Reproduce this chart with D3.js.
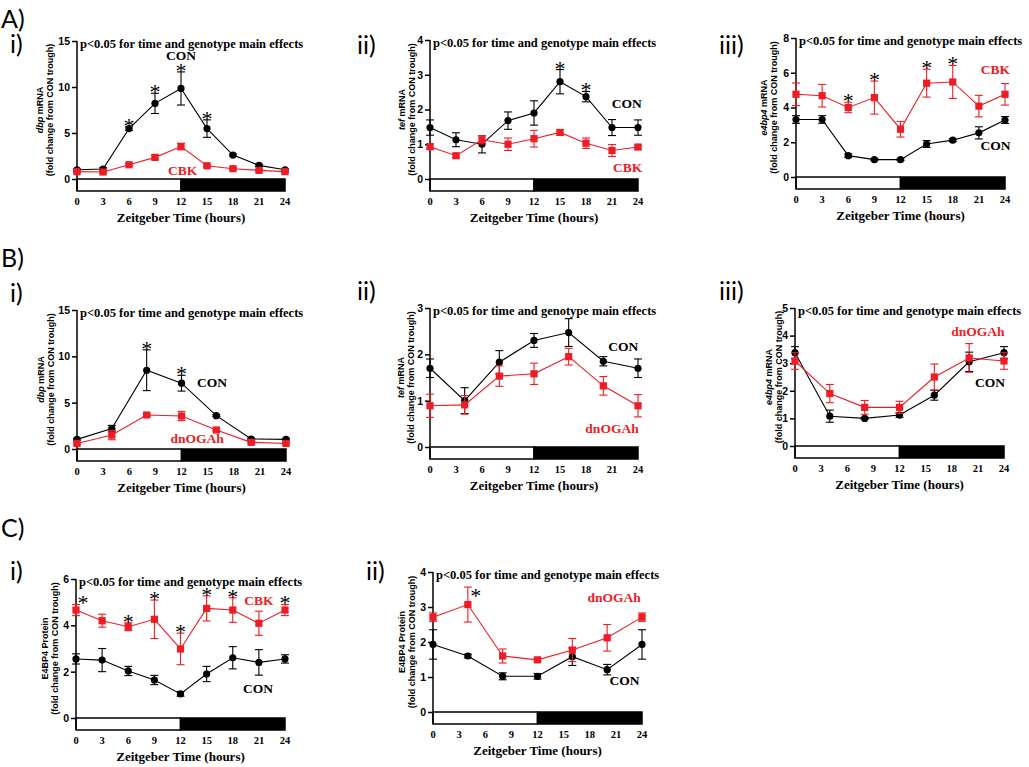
<!DOCTYPE html>
<html>
<head>
<meta charset="utf-8">
<script src="https://cdn.jsdelivr.net/npm/d3@7"></script>
<style>
  body { margin: 0; background: #fff; }
  svg { display: block; }
</style>
</head>
<body>
<div id="chart"></div>
<script>
// time points (Zeitgeber Time, hours)
const hours3 = [0, 3, 6, 9, 12, 15, 18, 21, 24];
const hours4 = [0, 4, 8, 12, 16, 20, 24];
const xTickLabels = [0, 3, 6, 9, 12, 15, 18, 21, 24];

// A i) dbp mRNA, CON vs CBK
const aDbpCon = [1.0, 1.08, 5.48, 8.22, 9.84, 5.48, 2.6, 1.48, 1.0];
const aDbpConErr = [0.15, 0.15, 0.2, 1.1, 1.8, 0.95, 0.12, 0.12, 0.1];
const aDbpCbk = [0.8, 0.76, 1.55, 2.35, 3.53, 1.44, 1.12, 0.94, 0.8];
const aDbpCbkErr = [0.1, 0.1, 0.12, 0.25, 0.35, 0.12, 0.1, 0.1, 0.1];

// A ii) tef mRNA
const aTefCon = [1.48, 1.13, 1.0, 1.68, 1.9, 2.8, 2.37, 1.48, 1.48];
const aTefConErr = [0.22, 0.2, 0.25, 0.25, 0.35, 0.35, 0.15, 0.23, 0.22];
const aTefCbk = [0.93, 0.67, 1.13, 1.0, 1.16, 1.34, 1.03, 0.82, 0.92];
const aTefCbkErr = [0.08, 0.05, 0.12, 0.18, 0.24, 0.08, 0.15, 0.17, 0.05];

// A iii) e4bp4 mRNA
const aE4Con = [3.31, 3.31, 1.23, 1.0, 1.0, 1.9, 2.12, 2.54, 3.28];
const aE4ConErr = [0.22, 0.22, 0.1, 0.05, 0.05, 0.2, 0.08, 0.35, 0.2];
const aE4Cbk = [4.76, 4.68, 4.0, 4.57, 2.75, 5.4, 5.47, 4.08, 4.76];
const aE4CbkErr = [0.65, 0.65, 0.3, 0.95, 0.45, 0.8, 0.95, 0.62, 0.62];

// B i) dbp mRNA, CON vs dnOGAh
const bDbpCon = [1.04, 2.2, 8.5, 7.1, 3.6, 1.08, 1.04];
const bDbpConErr = [0.1, 0.35, 2.2, 0.85, 0.1, 0.1, 0.1];
const bDbpDn = [0.6, 1.5, 3.67, 3.56, 2.05, 0.72, 0.6];
const bDbpDnErr = [0.1, 0.5, 0.15, 0.5, 0.1, 0.1, 0.1];

// B ii) tef mRNA
const bTefCon = [1.7, 1.0, 1.83, 2.3, 2.47, 1.85, 1.7];
const bTefConErr = [0.2, 0.28, 0.25, 0.15, 0.3, 0.1, 0.2];
const bTefDn = [0.89, 0.91, 1.53, 1.58, 1.95, 1.32, 0.89];
const bTefDnErr = [0.25, 0.2, 0.22, 0.23, 0.18, 0.2, 0.24];

// B iii) e4bp4 mRNA
const bE4Con = [3.38, 1.08, 1.0, 1.12, 1.84, 3.05, 3.38];
const bE4ConErr = [0.22, 0.22, 0.03, 0.08, 0.18, 0.35, 0.22];
const bE4Dn = [3.08, 1.9, 1.4, 1.4, 2.5, 3.19, 3.08];
const bE4DnErr = [0.3, 0.33, 0.25, 0.22, 0.47, 0.52, 0.3];

// C i) E4BP4 protein, CON vs CBK
const cProtCon = [2.55, 2.5, 2.03, 1.64, 1.04, 1.9, 2.6, 2.4, 2.55];
const cProtConErr = [0.22, 0.5, 0.2, 0.2, 0.1, 0.33, 0.48, 0.55, 0.18];
const cProtCbk = [4.66, 4.2, 3.94, 4.26, 2.98, 4.73, 4.66, 4.09, 4.66];
const cProtCbkErr = [0.24, 0.28, 0.17, 0.83, 0.68, 0.54, 0.53, 0.52, 0.24];

// C ii) E4BP4 protein, CON vs dnOGAh
const cProtCon2 = [1.93, 1.6, 1.02, 1.02, 1.58, 1.21, 1.93];
const cProtCon2Err = [0.42, 0.05, 0.1, 0.08, 0.25, 0.15, 0.42];
const cProtDn = [2.71, 3.07, 1.6, 1.49, 1.77, 2.12, 2.71];
const cProtDnErr = [0.12, 0.5, 0.2, 0.05, 0.33, 0.38, 0.12];

const lightDark = [
  { from: 0, to: 12, fill: '#fff' },
  { from: 12, to: 24, fill: '#000' }
];

const RED = '#ee1c25';
const SERIF = '"Liberation Serif", "Times New Roman", serif';
const SANS = '"Liberation Sans", Arial, sans-serif';
const note = 'p<0.05 for time and genotype main effects';

const svg = d3.select('#chart').append('svg')
  .attr('width', 1029).attr('height', 767)
  .style('background', '#fff');

// big section letters and sub-panel numerals
const sectionLabels = [
  { t: 'A)', x: 1, y: 28 }, { t: 'B)', x: 1, y: 267 }, { t: 'C)', x: 1, y: 537 }
];
const subLabels = [
  { t: 'i)', x: 10, y: 53 }, { t: 'ii)', x: 357, y: 54 }, { t: 'iii)', x: 719, y: 54 },
  { t: 'i)', x: 10, y: 302 }, { t: 'ii)', x: 357, y: 300 }, { t: 'iii)', x: 719, y: 300 },
  { t: 'i)', x: 10, y: 580 }, { t: 'ii)', x: 366, y: 580 }
];
svg.selectAll('.sec').data(sectionLabels).enter().append('text')
  .attr('x', d => d.x).attr('y', d => d.y)
  .style('font-family', 'Lato, "Open Sans", sans-serif').style('font-size', '25px')
  .text(d => d.t);
svg.selectAll('.sub').data(subLabels).enter().append('text')
  .attr('x', d => d.x).attr('y', d => d.y)
  .style('font-family', 'Lato, "Open Sans", sans-serif').style('font-size', '25px')
  .text(d => d.t);

const panels = [
  { left: 77, right: 285, top: 41, zero: 179, yMax: 15, yTicks: [0, 5, 10, 15],
    gene: 'dbp', italic: true, labOff: 27, hours: hours3,
    con: aDbpCon, conErr: aDbpConErr, alt: aDbpCbk, altErr: aDbpCbkErr, altName: 'CBK',
    stars: [{ t: 6 }, { t: 9 }, { t: 12 }, { t: 15 }], starOn: 'con',
    conLab: { t: 12, v: 12.9 }, altLab: { t: 12.2, v: 0.42 } },
  { left: 430, right: 638, top: 40, zero: 179, yMax: 4, yTicks: [0, 1, 2, 3, 4],
    gene: 'tef', italic: true, labOff: 18, hours: hours3,
    con: aTefCon, conErr: aTefConErr, alt: aTefCbk, altErr: aTefCbkErr, altName: 'CBK',
    stars: [{ t: 15 }, { t: 18 }], starOn: 'con',
    conLab: { t: 22.7, v: 2.04 }, altLab: { t: 22.8, v: 0.2 } },
  { left: 796, right: 1005, top: 38, zero: 177, yMax: 8, yTicks: [0, 2, 4, 6, 8],
    gene: 'e4bp4', italic: true, labOff: 22, hours: hours3,
    con: aE4Con, conErr: aE4ConErr, alt: aE4Cbk, altErr: aE4CbkErr, altName: 'CBK',
    stars: [{ t: 6 }, { t: 9 }, { t: 15 }, { t: 18 }], starOn: 'alt',
    conLab: { t: 22.9, v: 1.56 }, altLab: { t: 22.9, v: 5.9 } },
  { left: 77, right: 286, top: 310, zero: 449, yMax: 15, yTicks: [0, 5, 10, 15],
    gene: 'dbp', italic: true, labOff: 26, hours: hours4,
    con: bDbpCon, conErr: bDbpConErr, alt: bDbpDn, altErr: bDbpDnErr, altName: 'dnOGAh',
    stars: [{ t: 8 }, { t: 12 }], starOn: 'con',
    conLab: { t: 15.5, v: 6.7 }, altLab: { t: 13.8, v: 0.65 } },
  { left: 430, right: 638, top: 308, zero: 447, yMax: 3, yTicks: [0, 1, 2, 3],
    gene: 'tef', italic: true, labOff: 19, hours: hours4,
    con: bTefCon, conErr: bTefConErr, alt: bTefDn, altErr: bTefDnErr, altName: 'dnOGAh',
    stars: [], starOn: 'con',
    conLab: { t: 22.3, v: 2.07 }, altLab: { t: 21, v: 0.3 } },
  { left: 795, right: 1004, top: 308, zero: 446, yMax: 5, yTicks: [0, 1, 2, 3, 4, 5],
    gene: 'e4bp4', italic: true, labOff: 16, hours: hours4,
    con: bE4Con, conErr: bE4ConErr, alt: bE4Dn, altErr: bE4DnErr, altName: 'dnOGAh',
    stars: [], starOn: 'con',
    conLab: { t: 22.4, v: 2.14 }, altLab: { t: 21, v: 3.98 } },
  { left: 76, right: 285, top: 579, zero: 718, yMax: 6, yTicks: [0, 2, 4, 6],
    gene: 'E4BP4', italic: false, labOff: 21, hours: hours3,
    con: cProtCon, conErr: cProtConErr, alt: cProtCbk, altErr: cProtCbkErr, altName: 'CBK',
    stars: [{ t: 0, dx: 7 }, { t: 6 }, { t: 9 }, { t: 12 }, { t: 15 }, { t: 18 }, { t: 24 }], starOn: 'alt',
    conLab: { t: 20.9, v: 1.08 }, altLab: { t: 21, v: 4.88 }, protein: true },
  { left: 433, right: 642, top: 572, zero: 712, yMax: 4, yTicks: [0, 1, 2, 3, 4],
    gene: 'E4BP4', italic: false, labOff: 21, hours: hours4,
    con: cProtCon2, conErr: cProtCon2Err, alt: cProtDn, altErr: cProtDnErr, altName: 'dnOGAh',
    stars: [{ t: 4, dx: 8, dy: 10 }], starOn: 'alt',
    conLab: { t: 22, v: 0.77 }, altLab: { t: 20.8, v: 3.14 }, protein: true }
];

const BAR_H = 12;

function drawPanel(p) {
  const g = svg.append('g');
  const x = d3.scaleLinear().domain([0, 24]).range([p.left, p.right]);
  const y = d3.scaleLinear().domain([0, p.yMax]).range([p.zero, p.top]);

  // light/dark bar under the zero line
  g.selectAll('.ld').data(lightDark).enter().append('rect')
    .attr('x', d => x(d.from)).attr('y', y(0))
    .attr('width', d => x(d.to) - x(d.from)).attr('height', BAR_H)
    .attr('fill', d => d.fill).attr('stroke', '#000').attr('stroke-width', 1.5);

  // y axis (line runs down to bottom of the bar)
  const ax = g.append('g').attr('transform', `translate(${p.left},0)`)
    .call(d3.axisLeft(y).tickValues(p.yTicks).tickFormat(d3.format('d'))
      .tickSize(5).tickPadding(2));
  ax.select('.domain').remove();
  ax.selectAll('line').attr('stroke-width', 1.5);
  ax.selectAll('text').style('font-family', SANS).style('font-size', '10.5px')
    .style('font-weight', 'bold').attr('fill', '#000');
  g.append('line').attr('x1', p.left).attr('x2', p.left)
    .attr('y1', y(p.yMax)).attr('y2', y(0) + BAR_H)
    .attr('stroke', '#000').attr('stroke-width', 1.5);

  // x tick labels and title
  g.selectAll('.xt').data(xTickLabels).enter().append('text')
    .attr('x', d => x(d)).attr('y', y(0) + BAR_H + 14)
    .attr('text-anchor', 'middle')
    .style('font-family', SERIF).style('font-size', '10.5px').style('font-weight', 'bold')
    .text(d => d);
  g.append('text')
    .attr('x', (p.left + p.right) / 2).attr('y', y(0) + BAR_H + 31)
    .attr('text-anchor', 'middle')
    .style('font-family', SERIF).style('font-size', '13px').style('font-weight', 'bold')
    .text('Zeitgeber Time (hours)');

  // y title, two rotated lines
  const mid = (y(0) + y(p.yMax)) / 2;
  const t1 = g.append('text')
    .attr('transform', `translate(${p.left - p.labOff - 7},${mid}) rotate(-90)`)
    .attr('text-anchor', 'middle')
    .style('font-family', SANS).style('font-size', '9px').style('font-weight', 'bold');
  t1.append('tspan').style('font-style', p.italic ? 'italic' : 'normal').text(p.gene);
  t1.append('tspan').text(p.protein ? ' Protein' : ' mRNA');
  g.append('text')
    .attr('transform', `translate(${p.left - p.labOff + 3},${mid}) rotate(-90)`)
    .attr('text-anchor', 'middle')
    .style('font-family', SANS).style('font-size', '9px').style('font-weight', 'bold')
    .text('(fold change from CON trough)');

  // note
  g.append('text')
    .attr('x', p.left + 3).attr('y', y(p.yMax) + 7)
    .style('font-family', SERIF).style('font-size', '12.5px').style('font-weight', 'bold')
    .text(note);

  // series
  const series = [
    { vals: p.con, errs: p.conErr, color: '#000', shape: 'circle' },
    { vals: p.alt, errs: p.altErr, color: RED, shape: 'square' }
  ];
  series.forEach(s => {
    const pts = p.hours.map((h, i) => ({ h, v: s.vals[i], e: s.errs[i] }));
    const sg = g.append('g');
    sg.append('path').datum(pts)
      .attr('fill', 'none').attr('stroke', s.color).attr('stroke-width', 1.1)
      .attr('d', d3.line().x(d => x(d.h)).y(d => y(d.v)));
    const eb = sg.selectAll('.eb').data(pts).enter().append('g')
      .attr('stroke', s.color).attr('stroke-width', 1.1);
    eb.append('line').attr('x1', d => x(d.h)).attr('x2', d => x(d.h))
      .attr('y1', d => y(d.v - d.e)).attr('y2', d => y(d.v + d.e));
    eb.append('line').attr('x1', d => x(d.h) - 4).attr('x2', d => x(d.h) + 4)
      .attr('y1', d => y(d.v + d.e)).attr('y2', d => y(d.v + d.e));
    eb.append('line').attr('x1', d => x(d.h) - 4).attr('x2', d => x(d.h) + 4)
      .attr('y1', d => y(d.v - d.e)).attr('y2', d => y(d.v - d.e));
    if (s.shape === 'circle') {
      sg.selectAll('.pt').data(pts).enter().append('circle')
        .attr('cx', d => x(d.h)).attr('cy', d => y(d.v)).attr('r', 3.6)
        .attr('fill', s.color);
    } else {
      sg.selectAll('.pt').data(pts).enter().append('rect')
        .attr('x', d => x(d.h) - 3.6).attr('y', d => y(d.v) - 3.6)
        .attr('width', 7.2).attr('height', 7.2).attr('fill', s.color);
    }
  });

  // significance asterisks
  const sv = p.starOn === 'con' ? p.con : p.alt;
  const se = p.starOn === 'con' ? p.conErr : p.altErr;
  p.stars.forEach(st => {
    const i = p.hours.indexOf(st.t);
    g.append('text')
      .attr('x', x(st.t) + (st.dx || 0))
      .attr('y', y(sv[i] + se[i]) + 6 + (st.dy || 0))
      .attr('text-anchor', 'middle')
      .style('font-family', SERIF).style('font-size', '22px')
      .text('*');
  });

  // group labels
  g.append('text').attr('x', x(p.conLab.t)).attr('y', y(p.conLab.v))
    .attr('text-anchor', 'middle')
    .style('font-family', SERIF).style('font-size', '13.5px').style('font-weight', 'bold')
    .text('CON');
  g.append('text').attr('x', x(p.altLab.t)).attr('y', y(p.altLab.v))
    .attr('text-anchor', 'middle').attr('fill', RED)
    .style('font-family', SERIF).style('font-size', '13.5px').style('font-weight', 'bold')
    .text(p.altName);
}

panels.forEach(drawPanel);
</script>
</body>
</html>
